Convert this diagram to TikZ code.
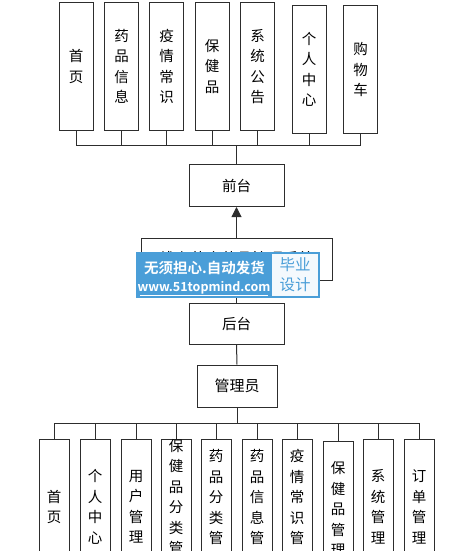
\documentclass[tikz,border=0pt]{standalone}
\usepackage{fontspec}
\newfontfamily\cjk{Noto Sans CJK SC}[BoldFont={Noto Sans CJK SC Bold}]
\usetikzlibrary{arrows.meta}
\definecolor{wmblue}{RGB}{74,158,216}
\definecolor{linec}{RGB}{45,45,45}
\tikzset{
  box/.style={draw=linec, line width=1pt, fill=white, inner sep=0pt, align=center,
    font=\cjk\fontsize{14.5}{20.5}\selectfont},
  vbox/.style={box, minimum width=34pt, minimum height=127pt},
  bbox/.style={box, minimum width=30pt, minimum height=136pt},
  hbox/.style={box, minimum width=95pt, minimum height=42pt},
  conn/.style={draw=linec, line width=1pt},
}
\begin{document}
\begin{tikzpicture}[x=1pt,y=-1pt]
\useasboundingbox (0,0) rectangle (456,551);
\clip (0,0) rectangle (456,551);
% top row
\node[vbox] (t1) at (76,66.5) {首\\页};
\node[vbox] (t2) at (121.5,66.5) {药\\品\\信\\息};
\node[vbox] (t3) at (166.5,66.5) {疫\\情\\常\\识};
\node[vbox] (t4) at (212,66.5) {保\\健\\品};
\node[vbox] (t5) at (257.5,66.5) {系\\统\\公\\告};
\node[vbox] (t6) at (309,69.5) {个\\人\\中\\心};
\node[vbox] (t7) at (360.5,69.5) {购\\物\\车};
\coordinate (busT) at (236.5,145);
% middle
\node[hbox] (ft) at (236.5,185.5) {前台};
\node[box, minimum width=191pt, minimum height=42pt, font=\cjk\fontsize{15.5}{18}\selectfont] (sys) at (236.5,259) {线上药店药品管理系统};
\node[hbox, minimum height=41pt] (bt) at (236.5,323.5) {后台};
\node[box, minimum width=80pt, minimum height=42pt, font=\cjk\fontsize{15}{18}\selectfont] (adm) at (237,386) {管理员};
\coordinate (busB) at (237,423);
% bottom row
\node[bbox] (b1) at (54,507) {首\\页};
\node[bbox] (b2) at (95,507) {个\\人\\中\\心};
\node[bbox] (b3) at (136,507) {用\\户\\管\\理};
\node[bbox] (b4) at (176,507) {保\\健\\品\\分\\类\\管\\理};
\node[bbox] (b5) at (216,507) {药\\品\\分\\类\\管\\理};
\node[bbox] (b6) at (257,507) {药\\品\\信\\息\\管\\理};
\node[bbox] (b7) at (297,507) {疫\\情\\常\\识\\管\\理};
\node[bbox] (b8) at (338,509) {保\\健\\品\\管\\理};
\node[bbox] (b9) at (378,507) {系\\统\\管\\理};
\node[bbox] (b10) at (419,507) {订\\单\\管\\理};
% connectors
\foreach \i in {1,...,7} { \draw[conn] (t\i.south) |- (busT); }
\draw[conn] (busT) -- (ft.north);
\draw[conn, -{Triangle[length=10pt,width=10pt]}] (sys.north) -- (ft.south);
\draw[conn] (sys.south) -- (bt.north);
\draw[conn] (bt.south) -- (adm.north);
\draw[conn] (adm.south) -- (busB);
\foreach \i in {1,...,10} { \draw[conn] (busB) -| (b\i.north); }
% watermark overlay
\fill[wmblue] (136,252) rectangle (320,298);
\fill[white!94!wmblue] (272,254) rectangle (318,296);
\node[anchor=center, inner sep=0pt, text=white, font=\cjk\bfseries\fontsize{14.5}{16}\selectfont] (wm1) at (204.5,268) {无须担心.自动发货};
\node[anchor=center, inner sep=0pt, text=white, font=\cjk\bfseries\fontsize{12.5}{14}\selectfont] (wm2) at (204,287.5) {www.51topmind.com};
\draw[white, line width=0.8pt] (140,295) -- (268,295);
\node[anchor=center, inner sep=0pt, text=wmblue, align=center, font=\cjk\fontsize{15.5}{20}\selectfont] (wm3) at (295,275) {毕业\\设计};
\end{tikzpicture}
\end{document}
